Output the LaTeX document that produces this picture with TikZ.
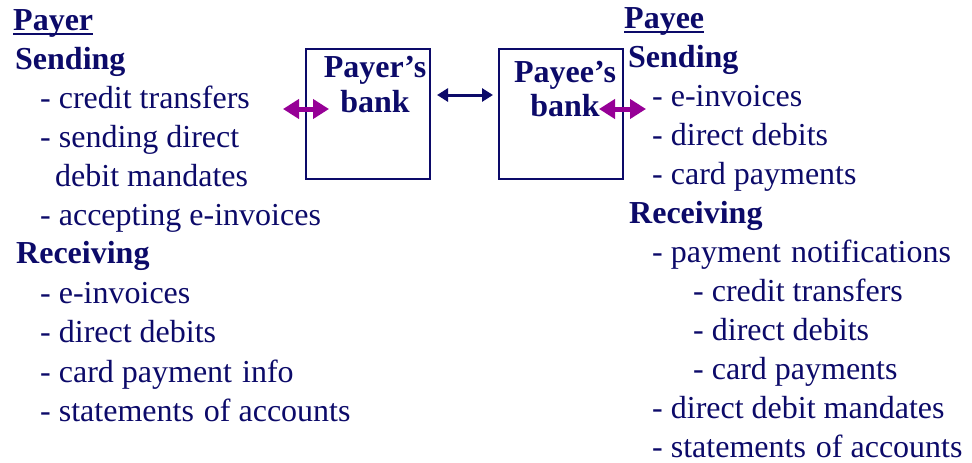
\documentclass[tikz,border=0pt]{standalone}
\usepackage{fontspec}
\setmainfont{Liberation Serif}
\usetikzlibrary{arrows.meta}
\definecolor{navy}{RGB}{12,10,105}
\definecolor{plum}{RGB}{150,0,150}
\newcommand{\wsp}{\hspace{10pt}}
\tikzset{
  txt/.style={anchor=base west, inner sep=0pt, text=navy, font=\fontsize{32}{39}\selectfont},
  head/.style={txt, font=\fontsize{32}{39}\selectfont\bfseries},
  bankbox/.style={draw=navy, line width=2.2pt, minimum width=124pt, minimum height=130pt, inner sep=0pt},
  banktext/.style={anchor=base, inner sep=0pt, text=navy, font=\fontsize{32}{35}\selectfont\bfseries},
  linkarrow/.style={navy, line width=3pt, {Triangle[length=11pt,width=13pt]}-{Triangle[length=11pt,width=13pt]}},
  accessarrow/.style={plum, line width=5pt, {Triangle[length=16pt,width=19pt]}-{Triangle[length=16pt,width=19pt]}}
}
\begin{document}
\begin{tikzpicture}[x=1pt, y=-1pt]
\useasboundingbox (0,0) rectangle (972,463);

% banks
\node[bankbox] (pbank) at (368,114) {};
\node[bankbox] (ebank) at (561,114) {};
\node[banktext] (ptext1) at (375,77) {Payer’s};
\node[banktext] (ptext2) at (375,112) {bank};
\node[banktext] (etext1) at (565,82) {Payee’s};
\node[banktext] (etext2) at (565,116) {bank};

% arrows
\coordinate (la) at (283,109);
\coordinate (lb) at (329,109);
\coordinate (ma) at (437,95);
\coordinate (mb) at (493,95);
\coordinate (ra) at (599,109);
\coordinate (rb) at (646,109);
\draw[accessarrow] (la) -- (lb);
\draw[linkarrow] (ma) -- (mb);
\draw[accessarrow] (ra) -- (rb);

% payer side
\node[head] (payer) at (13,30) {Payer};
\draw[navy, line width=2.4pt] ([yshift=-4pt]payer.base west) -- ([yshift=-4pt]payer.base east);
\node[head] (psend) at (15,69) {Sending};
\node[txt] (p1) at (40,108) {- credit transfers};
\node[txt] (p2) at (40,147) {- sending direct};
\node[txt] (p3) at (55,186) {debit mandates};
\node[txt] (p4) at (40,225) {- accepting e-invoices};
\node[head] (precv) at (16,263) {Receiving};
\node[txt] (p5) at (40,303) {- e-invoices};
\node[txt] (p6) at (40,342) {- direct debits};
\node[txt] (p7) at (40,382) {- card payment\wsp info};
\node[txt] (p8) at (40,421) {- statements\wsp of accounts};

% payee side
\node[head] (payee) at (624,28) {Payee};
\draw[navy, line width=2.4pt] ([yshift=-4pt]payee.base west) -- ([yshift=-4pt]payee.base east);
\node[head] (esend) at (628,67) {Sending};
\node[txt] (e1) at (652,106) {- e-invoices};
\node[txt] (e2) at (652,145) {- direct debits};
\node[txt] (e3) at (652,184) {- card payments};
\node[head] (ercv) at (629,223) {Receiving};
\node[txt] (e4) at (652,262) {- payment\wsp notifications};
\node[txt] (e5) at (693,301) {- credit transfers};
\node[txt] (e6) at (693,340) {- direct debits};
\node[txt] (e7) at (693,379) {- card payments};
\node[txt] (e8) at (652,418) {- direct debit mandates};
\node[txt] (e9) at (652,457) {- statements\wsp of accounts};
\end{tikzpicture}
\end{document}
